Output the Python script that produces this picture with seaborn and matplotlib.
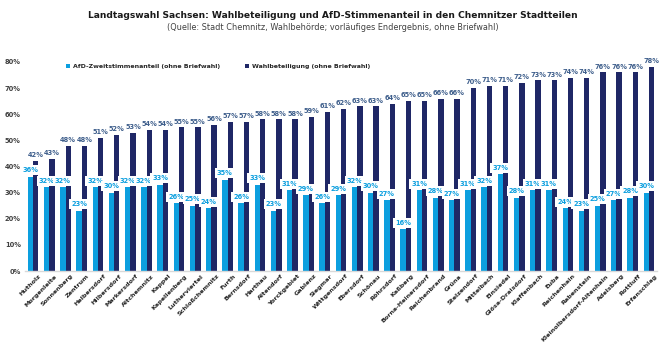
import matplotlib
matplotlib.use("Agg")
import matplotlib.pyplot as plt
import matplotlib.transforms as mtransforms
import seaborn as sns
import pandas as pd
from matplotlib import font_manager

stadtteile = ["Hutholz", "Morgenleite", "Sonnenberg", "Zentrum", "Helbersdorf", "Hilbersdorf",
              "Markersdorf", "Altchemnitz", "Kappel", "Kapellenberg", "Lutherviertel",
              "Schloßchemnitz", "Furth", "Bernsdorf", "Harthau", "Altendorf", "Yorckgebiet",
              "Gablenz", "Siegmar", "Wittgensdorf", "Ebersdorf", "Schönau", "Röhrsdorf",
              "Kaßberg", "Borna-Heinersdorf", "Reichenbrand", "Grüna", "Stelzendorf",
              "Mittelbach", "Einsiedel", "Glösa-Draisdorf", "Klaffenbach", "Euba",
              "Reichenhain", "Rabenstein", "Kleinolbersdorf-Altenhain", "Adelsberg",
              "Rottluff", "Erfenschlag"]
afd = [36, 32, 32, 23, 32, 30, 32, 32, 33, 26, 25, 24, 35, 26, 33, 23, 31, 29, 26, 29,
       32, 30, 27, 16, 31, 28, 27, 31, 32, 37, 28, 31, 31, 24, 23, 25, 27, 28, 30]
beteiligung = [42, 43, 48, 48, 51, 52, 53, 54, 54, 55, 55, 56, 57, 57, 58, 58, 58, 59, 61,
               62, 63, 63, 64, 65, 65, 66, 66, 70, 71, 71, 72, 73, 73, 74, 74, 76, 76, 76, 78]
serie_afd = "AfD-Zweitstimmenanteil (ohne Briefwahl)"
serie_wb = "Wahlbeteiligung (ohne Briefwahl)"
y_ticks = [0, 10, 20, 30, 40, 50, 60, 70, 80]

df = pd.DataFrame({
    "Stadtteil": stadtteile * 2,
    "Wert": afd + beteiligung,
    "Reihe": [serie_afd] * len(afd) + [serie_wb] * len(beteiligung),
})

LIGHT = "#0c9fdf"
NAVY = "#1f2766"
NAVY_LBL = "#3f5f8c"

sns.set_theme(style="white")
names = {f.name for f in font_manager.fontManager.ttflist}
fam = "Liberation Sans Narrow" if "Liberation Sans Narrow" in names else "DejaVu Sans"
plt.rcParams["font.family"] = [fam, "DejaVu Sans"]
plt.rcParams["font.weight"] = "bold"

fig = plt.figure(figsize=(6.66, 3.47), dpi=100)
ax = fig.add_axes([25 / 666, 1 - 271 / 347, 632 / 666, (271 - 62) / 347])

sns.barplot(data=df, x="Stadtteil", y="Wert", hue="Reihe", order=stadtteile,
            hue_order=[serie_afd, serie_wb], palette={serie_afd: LIGHT, serie_wb: NAVY},
            width=0.66, saturation=1, ax=ax, linewidth=0, zorder=2)

ax.set_ylim(0, 80)
ax.set_xlim(-0.5, len(stadtteile) - 0.5)
ax.set_yticks(y_ticks)
ax.set_yticklabels([f"{v}%" for v in y_ticks], fontsize=4.8, color="#404040", fontweight="bold")
ax.set_xlabel("")
ax.set_ylabel("")
for s in ["top", "right", "left"]:
    ax.spines[s].set_visible(False)
ax.spines["bottom"].set_color("#d9d9d9")
ax.spines["bottom"].set_linewidth(1)
ax.tick_params(axis="both", length=0, pad=3)

ax.set_xticks(range(len(stadtteile)))
ax.set_xticklabels(stadtteile, rotation=45, ha="right", va="center",
                   rotation_mode="anchor", fontsize=4.6, color="#262626", fontweight="bold")
off = mtransforms.ScaledTranslation(7 / 100, 0 / 100, fig.dpi_scale_trans)
for lbl in ax.get_xticklabels():
    lbl.set_transform(lbl.get_transform() + off)

c_afd, c_wb = ax.containers[0], ax.containers[1]
ax.bar_label(c_wb, labels=[f"{v}%" for v in beteiligung], padding=2, fontsize=4.8,
             color=NAVY_LBL, fontweight="bold", zorder=5)
ax.bar_label(c_afd, labels=[f"{v}%" for v in afd], padding=2.5, fontsize=4.8,
             color=LIGHT, fontweight="bold", zorder=5,
             bbox=dict(boxstyle="square,pad=0.3", fc="white", ec="none"))

leg = ax.legend(loc="upper left", bbox_to_anchor=(0.062, 1.0), ncol=2, frameon=False,
                fontsize=4.5, handlelength=0.7, handleheight=0.7, handletextpad=0.4,
                columnspacing=4.0, borderaxespad=0, borderpad=0.3)
for t in leg.get_texts():
    t.set_color("#262626")
    t.set_fontweight("bold")

fig.text(0.5, 1 - 15 / 347, "Landtagswahl Sachsen: Wahlbeteiligung und AfD-Stimmenanteil in den Chemnitzer Stadtteilen",
         ha="center", va="center", fontsize=6.6, fontweight="bold", color="#1a1a1a")
fig.text(0.5, 1 - 28 / 347, "(Quelle: Stadt Chemnitz, Wahlbehörde; vorläufiges Endergebnis, ohne Briefwahl)",
         ha="center", va="center", fontsize=5.9, fontweight="normal", color="#404040")

fig.savefig("out.png", dpi=100)
